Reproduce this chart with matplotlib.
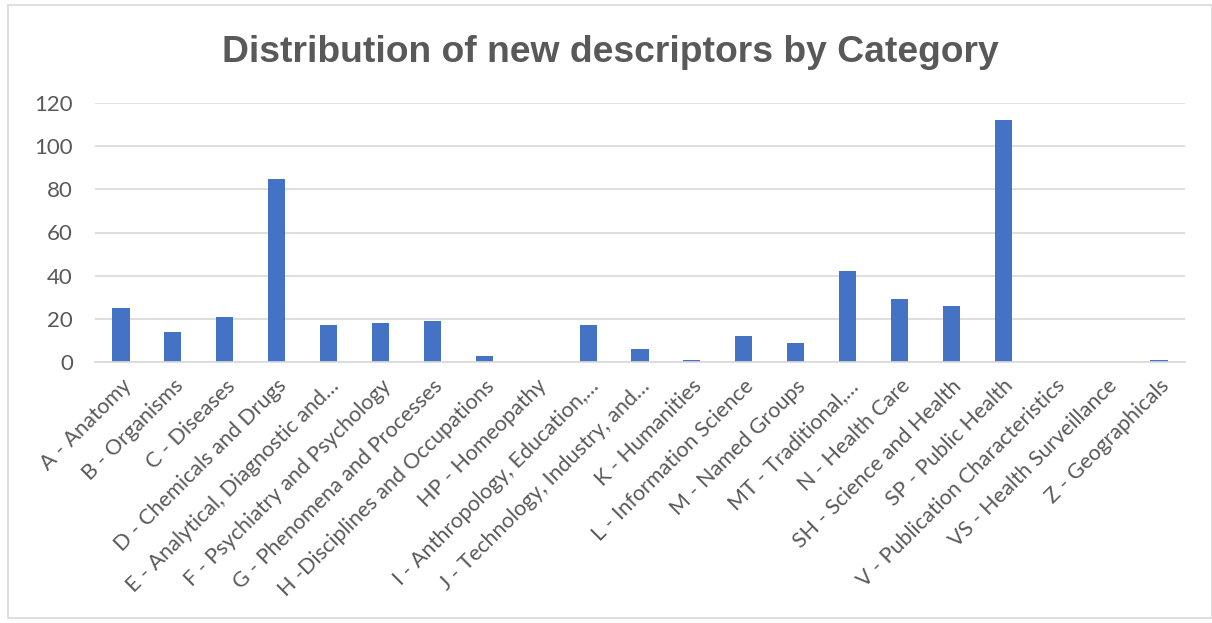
import matplotlib
matplotlib.use("Agg")
import matplotlib.pyplot as plt
from matplotlib.patches import Rectangle

categories = [
    "A - Anatomy", "B - Organisms", "C - Diseases", "D - Chemicals and Drugs",
    "E - Analytical, Diagnostic and…", "F - Psychiatry and Psychology",
    "G - Phenomena and Processes", "H -Disciplines and Occupations",
    "HP - Homeopathy", "I - Anthropology, Education,…", "J - Technology, Industry, and…",
    "K - Humanities", "L - Information Science", "M - Named Groups", "MT - Traditional,…",
    "N - Health Care", "SH - Science and Health", "SP - Public Health",
    "V - Publication Characteristics", "VS - Health Surveillance", "Z - Geographicals",
]
values = [25, 14, 21, 85, 17, 18, 19, 3, 0, 17, 6, 1, 12, 9, 42, 29, 26, 112, 0, 0, 1]
yticks = [0, 20, 40, 60, 80, 100, 120]

fig = plt.figure(figsize=(12.12, 6.23), dpi=100)
ax = fig.add_axes([95/1212, 1-362/623, (1185-95)/1212, (362-103)/623])

x = list(range(len(categories)))
ax.bar(x, values, width=0.33, color="#4472C4", zorder=3)
ax.set_xlim(-0.5, len(categories)-0.5)
ax.set_ylim(0, 120)
ax.set_yticks(yticks)
ax.set_yticklabels([str(v) for v in yticks], fontsize=16, color="#595959", family="Lato")
ax.set_xticks(x)
ax.set_xticklabels(categories, rotation=45, ha="right", rotation_mode="anchor",
                   fontsize=15.5, color="#595959", family="Lato")
ax.tick_params(axis="x", length=0, pad=10)
ax.tick_params(axis="y", length=0, pad=16)
ax.grid(axis="y", color="#d9d9d9", linewidth=1.2, zorder=0)
for s in ["top", "right", "left"]:
    ax.spines[s].set_visible(False)
ax.spines["bottom"].set_color("#d9d9d9")
ax.spines["bottom"].set_linewidth(1.2)
ax.spines["bottom"].set_zorder(4)

fig.text(610/1212, 1-52/623, "Distribution of new descriptors by Category",
         ha="center", va="center", fontsize=26.8, fontweight="bold",
         color="#595959", family="Liberation Sans")

fig.patches.append(Rectangle((8/1212, 5/623), 1-8/1212, 1-10/623, transform=fig.transFigure,
                             fill=False, edgecolor="#d9d9d9", linewidth=1.2))

fig.savefig("out.png", dpi=100, facecolor="white")
